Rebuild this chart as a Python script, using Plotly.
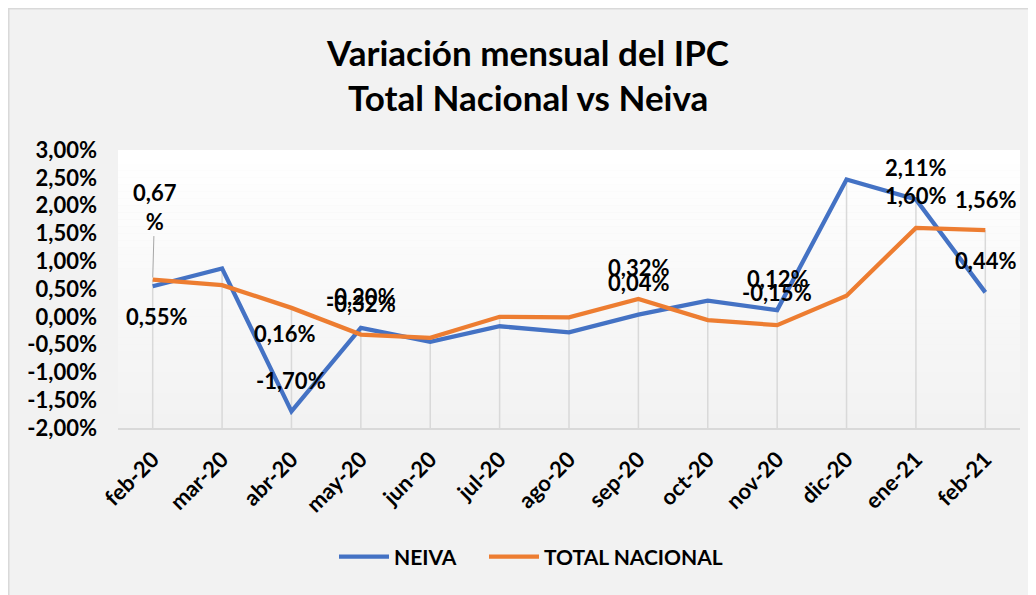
import plotly.graph_objects as go

# ---- data ----
categories = ["feb-20", "mar-20", "abr-20", "may-20", "jun-20", "jul-20", "ago-20",
              "sep-20", "oct-20", "nov-20", "dic-20", "ene-21", "feb-21"]
neiva = [0.55, 0.87, -1.70, -0.20, -0.45, -0.17, -0.28, 0.04, 0.29, 0.12, 2.47, 2.11, 0.44]
total_nacional = [0.67, 0.57, 0.16, -0.32, -0.38, 0.00, -0.01, 0.32, -0.06, -0.15, 0.38, 1.60, 1.56]
neiva_labeled = [0, 2, 3, 7, 9, 11, 12]
total_labeled = [0, 2, 3, 7, 9, 11, 12]
y_tick_values = [3.0, 2.5, 2.0, 1.5, 1.0, 0.5, 0.0, -0.5, -1.0, -1.5, -2.0]
y_tick_labels = ["3,00%", "2,50%", "2,00%", "1,50%", "1,00%", "0,50%", "0,00%",
                 "-0,50%", "-1,00%", "-1,50%", "-2,00%"]

BLUE = "#4472C4"
ORANGE = "#ED7D31"
FONT = "Lato"
Y_MIN, Y_MAX = -2.0, 3.0


def fmt(v):
    return f"{v:.2f}".replace(".", ",").replace("-0,00", "0,00") + "%"


fig = go.Figure()

# drop lines (from highest point down to axis)
dx, dy = [], []
for c, a, b in zip(categories, neiva, total_nacional):
    dx += [c, c, None]
    dy += [max(a, b), Y_MIN, None]
fig.add_trace(go.Scatter(x=dx, y=dy, mode="lines", line=dict(color="#D9D9D9", width=1.5),
                         showlegend=False, hoverinfo="skip"))

fig.add_trace(go.Scatter(x=categories, y=neiva, mode="lines", name="NEIVA",
                         line=dict(color=BLUE, width=4.3), legend="legend"))
fig.add_trace(go.Scatter(x=categories, y=total_nacional, mode="lines", name="TOTAL NACIONAL",
                         line=dict(color=ORANGE, width=4.3), legend="legend2"))

lab_font = dict(family=FONT, size=22, color="black", weight="bold")
annotations = []
# Neiva labels
neiva_shift = {0: (4, -30), 2: (0, 31), 3: (0, 31), 7: (0, 32), 9: (0, 32), 11: (0, 32), 12: (0, 32)}
for i in neiva_labeled:
    xs, ys = neiva_shift[i]
    annotations.append(dict(x=categories[i], y=neiva[i], text=fmt(neiva[i]), showarrow=False,
                            xshift=xs, yshift=ys, font=lab_font))
# Total labels
total_shift = {2: (-7, -26), 3: (0, 31), 7: (0, 32), 9: (0, 33), 11: (0, 32), 12: (0, 31)}
for i in total_labeled:
    if i == 0:
        annotations.append(dict(x=categories[i], y=total_nacional[i],
                                text=fmt(total_nacional[i]).replace("%", "<br>%"),
                                showarrow=True, arrowhead=0, arrowwidth=1, arrowcolor="#A6A6A6",
                                ax=2, ay=-73, standoff=2, font=lab_font))
    else:
        xs, ys = total_shift[i]
        annotations.append(dict(x=categories[i], y=total_nacional[i], text=fmt(total_nacional[i]),
                                showarrow=False, xshift=xs, yshift=ys, font=lab_font))

# second title line
annotations.append(dict(xref="paper", yref="paper", x=0.4545, y=1.1906, xanchor="center",
                        yanchor="middle", text="Total Nacional vs Neiva", showarrow=False,
                        font=dict(family=FONT, size=35, color="black", weight="bold")))

# gradient plot background + outer border
shapes = []
n = 40
for k in range(n):
    t = k / (n - 1)
    g = int(round(255 - (255 - 242) * (1 - t)))
    shapes.append(dict(type="rect", xref="paper", yref="paper", x0=0, x1=1,
                       y0=k / n, y1=(k + 1) / n, line=dict(width=0),
                       fillcolor=f"rgb({g},{g},{g})", layer="below"))
shapes.append(dict(type="rect", xref="paper", yref="paper", x0=-0.1211, x1=1.05,
                   y0=-0.7, y1=1.5081, line=dict(color="#D9D9D9", width=1.5),
                   fillcolor="rgba(0,0,0,0)", layer="below"))

legend_common = dict(orientation="h", xanchor="left", y=-0.464, yanchor="middle",
                     font=dict(family=FONT, size=21, color="black", weight="bold"),
                     bgcolor="rgba(0,0,0,0)", itemwidth=50)

fig.update_layout(
    width=1036, height=595,
    margin=dict(l=110, r=24, t=142, b=175),
    paper_bgcolor="#F2F2F2",
    plot_bgcolor="#F2F2F2",
    title=dict(text="Variación mensual del IPC", x=(528 - 8) / 1036, xanchor="center", xref="container",
               y=1 - 46 / 595, yanchor="middle", yref="container",
               font=dict(family=FONT, size=35, color="black", weight="bold")),
    font=dict(family=FONT, color="black"),
    xaxis=dict(type="category", range=[-0.5, len(categories) - 0.5], showgrid=False,
               showline=True, linecolor="#D9D9D9", linewidth=1.5, ticks="",
               tickangle=-45, ticklabelstandoff=8,
               tickfont=dict(family=FONT, size=22, color="black", weight="bold"),
               zeroline=False),
    yaxis=dict(range=[Y_MIN, Y_MAX], tickvals=y_tick_values, ticktext=y_tick_labels,
               showgrid=False, zeroline=False, showline=False, ticks="",
               ticklabelstandoff=20,
               tickfont=dict(family=FONT, size=22, color="black", weight="bold")),
    legend=dict(x=(334 - 118) / 902, **legend_common),
    legend2=dict(x=(484 - 118) / 902, **legend_common),
    annotations=annotations,
    shapes=shapes,
    showlegend=True,
)

fig.write_html("out.html")
